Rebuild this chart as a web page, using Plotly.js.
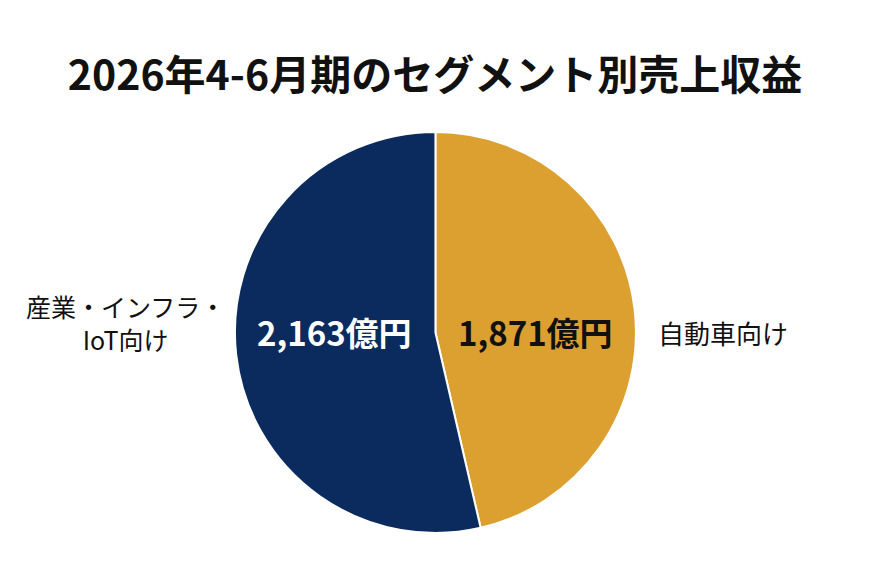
<!DOCTYPE html>
<html>
<head>
<meta charset="utf-8">
<script src="https://cdn.plot.ly/plotly-3.0.1.min.js"></script>
<style>
  body { margin: 0; background: #fff; }
  #chart { width: 870px; height: 583px; }
</style>
</head>
<body>
<div id="chart"></div>
<script>
var segments = ['自動車向け', '産業・インフラ・<br>IoT向け'];
var revenue = [1871, 2163];
var revenueText = ['1,871億円', '2,163億円'];
var sliceColors = ['#DCA031', '#0B2A5E'];
var numberColors = ['#111111', '#ffffff'];

var font = '"Noto Sans CJK JP", "Noto Sans", sans-serif';
var W = 870, H = 583;
var pieDomain = {x: [0.2695, 0.7315], y: [0.0858, 0.7736]};

var cx = (pieDomain.x[0] + pieDomain.x[1]) / 2;
var cy = (pieDomain.y[0] + pieDomain.y[1]) / 2;
var rx = (pieDomain.x[1] - pieDomain.x[0]) / 2;   // radius in paper x units

var trace1 = {
    type: 'pie',
    labels: segments,
    values: revenue,
    sort: false,
    direction: 'clockwise',
    rotation: 0,
    domain: pieDomain,
    marker: {colors: sliceColors, line: {color: '#ffffff', width: 2}},
    textinfo: 'none',
    hoverinfo: 'none',
    showlegend: false
};

// numbers half way in each slice, names outside (slice 0 right, slice 1 left)
var side = [1, -1];
var gap = [20, 7];
var nameSize = [26, 25];
var annotations = [];
for (var i = 0; i < segments.length; i++) {
    annotations.push({
        xref: 'paper', yref: 'paper',
        x: cx + side[i] * rx * 0.5, y: cy,
        xanchor: 'center', yanchor: 'middle',
        text: '<b>' + revenueText[i] + '</b>',
        showarrow: false,
        font: {family: font, size: 33, color: numberColors[i]}
    });
    annotations.push({
        xref: 'paper', yref: 'paper',
        x: cx + side[i] * (rx + gap[i] / W), y: cy + (i === 1 ? 10 / H : 0),
        xanchor: side[i] > 0 ? 'left' : 'right', yanchor: 'middle',
        align: 'center',
        text: segments[i],
        showarrow: false,
        font: {family: font, size: nameSize[i], color: '#111111'}
    });
}

var layout = {
    width: W,
    height: H,
    margin: {l: 0, r: 0, t: 0, b: 0},
    paper_bgcolor: '#ffffff',
    title: {
        text: '<b>2026年4-6月期のセグメント別売上収益</b>',
        font: {family: font, size: 41, color: '#111111'},
        x: 0.5,
        xanchor: 'center',
        y: 0.87,
        yanchor: 'middle'
    },
    annotations: annotations
};

Plotly.newPlot('chart', [trace1], layout, {displayModeBar: false, staticPlot: true});
</script>
</body>
</html>
